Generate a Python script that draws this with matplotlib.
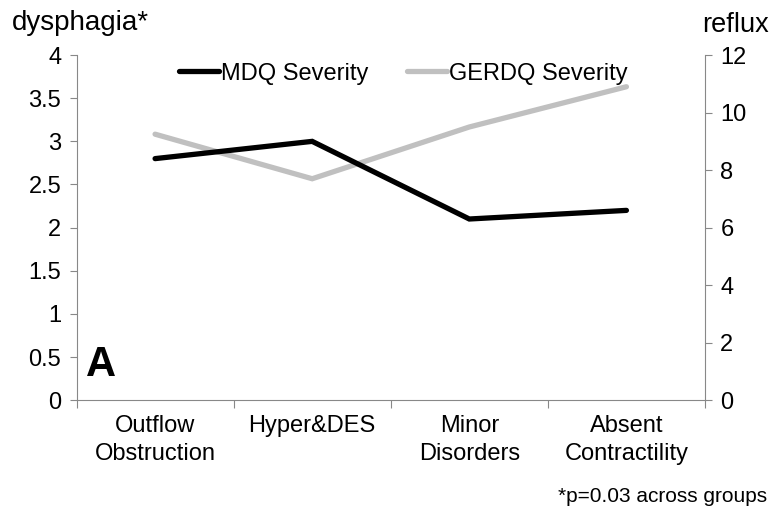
import numpy as np
import matplotlib
matplotlib.use("Agg")
import matplotlib.pyplot as plt

plt.rcParams['font.family'] = ['Liberation Sans', 'DejaVu Sans']

# values
groups = ["Outflow\nObstruction", "Hyper&DES", "Minor\nDisorders", "Absent\nContractility"]
mdq_severity = [2.8, 3.0, 2.1, 2.2]      # left axis (dysphagia)
gerdq_severity = [9.25, 7.7, 9.5, 10.9]  # right axis (reflux)

x = np.arange(len(groups))
grey = "#888888"
fs = 17

fig = plt.figure(figsize=(7.73, 5.15), dpi=100)
ax = fig.add_axes([0.099, 0.223, 0.813, 0.670])
ax2 = ax.twinx()

l1, = ax.plot(x, mdq_severity, color="black", lw=3.8, solid_capstyle="round",
              solid_joinstyle="miter", label="MDQ Severity", zorder=3)
l2, = ax2.plot(x, gerdq_severity, color="#c0c0c0", lw=3.8, solid_capstyle="round",
               solid_joinstyle="miter", label="GERDQ Severity", zorder=2)

ax.set_xlim(-0.5, len(groups) - 0.5)
ax.set_ylim(0, 4)
ax2.set_ylim(0, 12)
ax.set_yticks(np.arange(0, 4.01, 0.5))
ax.set_yticklabels(["0", "0.5", "1", "1.5", "2", "2.5", "3", "3.5", "4"])
ax2.set_yticks(np.arange(0, 12.1, 2))

ax.set_xticks(x)
ax.set_xticklabels(groups, fontsize=fs, linespacing=1.3)
ax.set_xticks(np.arange(-0.5, len(groups), 1), minor=True)
ax.tick_params(axis="x", which="major", length=0, pad=11)
ax.tick_params(axis="x", which="minor", length=6, color=grey, width=0.8)
ax.tick_params(axis="y", labelsize=fs, length=5, color=grey, width=0.8, pad=6)
ax2.tick_params(axis="y", labelsize=fs, length=5, color=grey, width=0.8, pad=6)

for a in (ax, ax2):
    a.spines["top"].set_visible(False)
    for s in ("left", "right", "bottom"):
        a.spines[s].set_color(grey)
        a.spines[s].set_linewidth(0.8)
ax.spines["right"].set_visible(False)
ax2.spines["left"].set_visible(False)
ax2.spines["bottom"].set_visible(False)

ax.set_zorder(ax2.get_zorder() + 1)
ax.patch.set_visible(False)

fig.text(0.015, 0.955, "dysphagia*", fontsize=20, va="center", ha="left")
fig.text(0.908, 0.952, "reflux", fontsize=19.5, va="center", ha="left")
ax.text(0.015, 0.045, "A", transform=ax.transAxes, fontsize=30, fontweight="bold",
        ha="left", va="bottom")
fig.text(0.993, 0.035, "*p=0.03 across groups", fontsize=15, ha="right", va="center")

ax.legend([l1, l2], ["MDQ Severity", "GERDQ Severity"], loc="upper center",
          bbox_to_anchor=(0.52, 1.04), ncol=2, frameon=False, fontsize=fs,
          handlelength=1.7, handletextpad=0.1, columnspacing=1.6)

fig.savefig("out.png", dpi=100)
